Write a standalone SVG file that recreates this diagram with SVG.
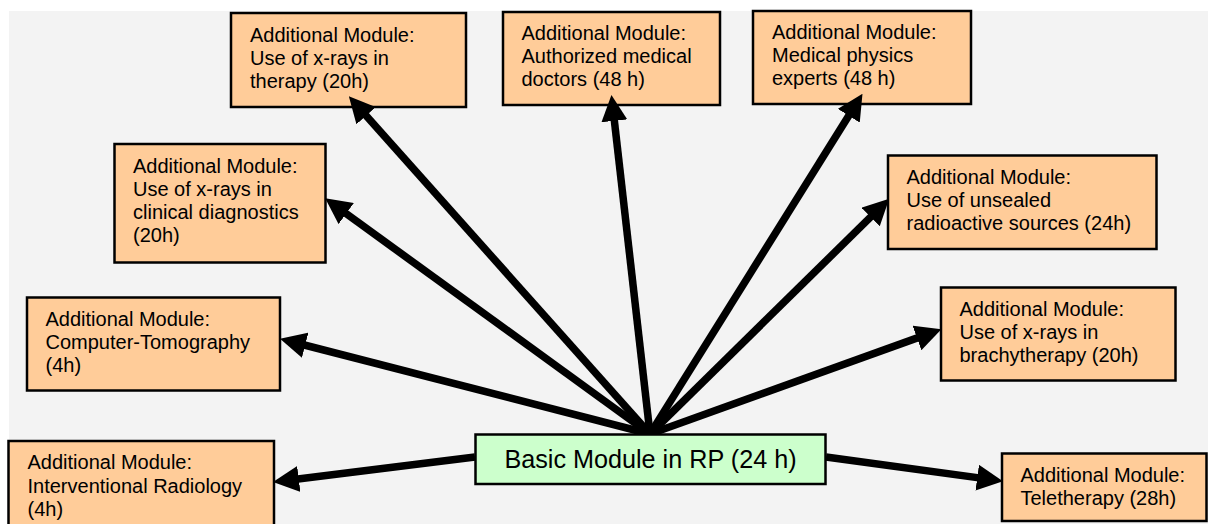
<svg xmlns="http://www.w3.org/2000/svg" width="1208" height="524" viewBox="0 0 1208 524">
<style>
.mod{fill:#ffcc99;stroke:#000;stroke-width:2.5}
.basic{fill:#ccffcc;stroke:#000;stroke-width:2.5}
.t{font-family:"Liberation Sans",Arial,sans-serif;font-size:20px;fill:#000}
.tb{font-family:"Liberation Sans",Arial,sans-serif;font-size:25.2px;fill:#000}
.c{stroke:#000;stroke-width:7.5;fill:none;marker-end:url(#ah)}
</style>
<defs>
<marker id="ah" markerUnits="userSpaceOnUse" markerWidth="26" markerHeight="26" viewBox="0 0 24 24" refX="12" refY="12" orient="auto">
<path d="M0,0 L24,12 L0,24 z" fill="#000"/>
</marker>
</defs>
<rect x="9" y="11" width="1199" height="513" fill="#f3f3f3"/>
<g id="n-therapy"><rect class="mod" x="231" y="13" width="235" height="94"/>
<text class="t" x="250" y="42">Additional Module:</text><text class="t" x="250" y="65">Use of x-rays in</text><text class="t" x="250" y="88">therapy (20h)</text></g>
<g id="n-diag"><rect class="mod" x="114.5" y="144" width="211" height="118.5"/>
<text class="t" x="133" y="173">Additional Module:</text><text class="t" x="133" y="196">Use of x-rays in</text><text class="t" x="133" y="219">clinical diagnostics</text><text class="t" x="133" y="242">(20h)</text></g>
<g id="n-doctors"><rect class="mod" x="503" y="12" width="217" height="93"/>
<text class="t" x="521.5" y="39.5">Additional Module:</text><text class="t" x="521.5" y="62.5">Authorized medical</text><text class="t" x="521.5" y="86">doctors (48 h)</text></g>
<g id="n-physics"><rect class="mod" x="753" y="11" width="218" height="93"/>
<text class="t" x="772" y="39">Additional Module:</text><text class="t" x="772" y="62">Medical physics</text><text class="t" x="772" y="85">experts (48 h)</text></g>
<g id="n-unsealed"><rect class="mod" x="888" y="155.5" width="268.5" height="93.5"/>
<text class="t" x="906.5" y="183.5">Additional Module:</text><text class="t" x="906.5" y="207">Use of unsealed</text><text class="t" x="906.5" y="230">radioactive sources (24h)</text></g>
<g id="n-ct"><rect class="mod" x="27" y="297.5" width="253" height="93"/>
<text class="t" x="45.5" y="325.5">Additional Module:</text><text class="t" x="45.5" y="349">Computer-Tomography</text><text class="t" x="45.5" y="372">(4h)</text></g>
<g id="n-brachy"><rect class="mod" x="941" y="287.5" width="234.5" height="93"/>
<text class="t" x="959.5" y="315.5">Additional Module:</text><text class="t" x="959.5" y="338.5">Use of x-rays in</text><text class="t" x="959.5" y="362">brachytherapy (20h)</text></g>
<g id="n-interv"><rect class="mod" x="8.5" y="441" width="265.5" height="100"/>
<text class="t" x="27.5" y="468.5">Additional Module:</text><text class="t" x="27.5" y="492.5">Interventional Radiology</text><text class="t" x="27.5" y="516">(4h)</text></g>
<g id="n-tele"><rect class="mod" x="1002" y="453.5" width="204.5" height="67.5"/>
<text class="t" x="1020.5" y="482">Additional Module:</text><text class="t" x="1020.5" y="505">Teletherapy (28h)</text></g>
<g id="connectors">
<line class="c" x1="650" y1="434" x2="357.5" y2="106"/>
<line class="c" x1="650" y1="434" x2="335.7" y2="206"/>
<line class="c" x1="650" y1="434" x2="612.9" y2="107.9"/>
<line class="c" x1="650" y1="434" x2="855.6" y2="104.7"/>
<line class="c" x1="650" y1="434" x2="879.9" y2="207.9"/>
<line class="c" x1="650" y1="434" x2="292.6" y2="342"/>
<line class="c" x1="650" y1="434" x2="929.2" y2="333.6"/>
<line class="c" x1="475" y1="457" x2="285.9" y2="480.5"/>
<line class="c" x1="826" y1="457" x2="990.1" y2="479.4"/>
</g>
<g id="n-basic"><rect class="basic" x="475.5" y="434.5" width="350" height="49.5"/>
<text class="tb" x="650.5" y="467.5" text-anchor="middle">Basic Module in RP (24 h)</text></g>
</svg>
